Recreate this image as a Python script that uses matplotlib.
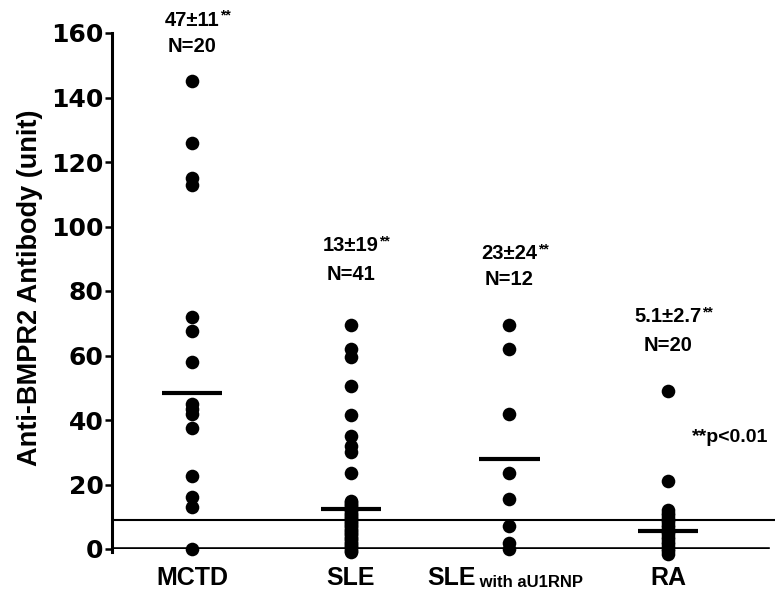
import matplotlib
matplotlib.use('Agg')
import matplotlib.pyplot as plt

# ---------------- data ----------------
categories = ['MCTD', 'SLE', 'SLE', 'RA']
category_suffix = ['', '', 'with aU1RNP', '']
mctd = [145, 126, 115, 113, 72, 67.5, 58, 45, 43.5, 42, 37.5, 22.5, 16, 13, 0]
sle = [69.5, 62, 59.5, 50.5, 41.5, 35, 32, 30, 23.5,
       15, 14.5, 14, 13.5, 13, 12.5, 12, 11.5, 11, 10.5, 10, 9.5, 9, 8.5,
       8, 7.5, 7, 6.5, 6, 5.5, 5, 4.5, 4, 3.5, 3, 2.5, 2, 1.5, 1, 0.5, 0,
       -0.5, -1]
sle_u1 = [69.5, 62, 42, 23.5, 15.5, 7, 2, 0]
ra = [49, 21, 12, 11.25, 10.5, 9.75, 9, 8.25, 7.5, 6.75, 6, 5.25, 4.5,
      3.75, 3, 2.25, 1.5, 0.75, 0, -0.75, -1.5]
groups = [mctd, sle, sle_u1, ra]
mean_lines = [48.5, 12.5, 28, 5.5]
mean_labels = ['47±11', '13±19', '23±24', '5.1±2.7']
n_labels = ['N=20', 'N=41', 'N=12', 'N=20']
cutoff = 9
yticks = [0, 20, 40, 60, 80, 100, 120, 140, 160]
ylabel = 'Anti-BMPR2 Antibody (unit)'
pnote = '**p<0.01'

# ---------------- figure ----------------
W, H = 775, 596
fig = plt.figure(figsize=(W / 100, H / 100), dpi=100)
ax_left, ax_right = 112, 775
ax_top, ax_bot = 33, 549
ax = fig.add_axes([ax_left / W, 1 - ax_bot / H,
                   (ax_right - ax_left) / W, (ax_bot - ax_top) / H])
ax.set_ylim(0, 160)
ax.set_xlim(-0.504, 3.674)

for s in ['top', 'right', 'bottom']:
    ax.spines[s].set_visible(False)
ax.spines['left'].set_linewidth(2.2)
ax.spines['left'].set_bounds(-0.8, 160)

ax.set_xticks([])
ax.set_yticks(yticks)
ax.set_yticklabels([str(v) for v in yticks], fontfamily='DejaVu Sans',
                   fontweight='bold', fontsize=18)
ax.tick_params(axis='y', length=5, width=1.8, pad=1, direction='out')

# baseline and cutoff lines
ax.axhline(0, xmin=0, xmax=0.99, color='black', lw=2.6, zorder=2)
ax.axhline(cutoff, color='black', lw=1.5, zorder=2)

# points
for i, vals in enumerate(groups):
    ax.plot([i] * len(vals), vals, 'o', color='black', markersize=9.8,
            markeredgewidth=0, clip_on=False, zorder=3)
    ax.plot([i - 0.19, i + 0.19], [mean_lines[i]] * 2, color='black',
            lw=3, solid_capstyle='butt', zorder=3)

# category labels
xt = ax.get_xaxis_transform()
fam = 'Liberation Sans'
for i, (c, suf) in enumerate(zip(categories, category_suffix)):
    if suf:
        t = ax.text(i - 0.52, -0.056, c, transform=xt, ha='left', va='center',
                    fontfamily=fam, fontweight='bold', fontsize=18)
        ax.annotate(' ' + suf, xy=(1, 0), xycoords=t, ha='left',
                    va='bottom', fontfamily=fam, fontweight='bold',
                    fontsize=12)
    else:
        ax.text(i, -0.056, c, transform=xt, ha='center', va='center',
                fontfamily=fam, fontweight='bold', fontsize=18)

# annotations above groups
ann_y = [(164, 155.7), (94, 85), (91.5, 83.7), (72, 63)]
for i in range(4):
    y1, y2 = ann_y[i]
    t = ax.text(i, y1, mean_labels[i], ha='center', va='center',
                fontfamily=fam, fontweight='bold', fontsize=14.5,
                clip_on=False)
    ax.annotate('**', xy=(1, 1), xycoords=t, ha='left', va='top',
                fontfamily=fam, fontweight='bold', fontsize=10,
                xytext=(0.5, 1.5), textcoords='offset points')
    ax.text(i, y2, n_labels[i], ha='center', va='center',
            fontfamily=fam, fontweight='bold', fontsize=14.5,
            clip_on=False)

ax.text(3.15, 34.7, pnote, ha='left', va='center',
        fontfamily=fam, fontweight='bold', fontsize=14,
        clip_on=False)

fig.text(30 / W, 1 - 288 / H, ylabel, rotation=90, ha='center', va='center',
         fontfamily=fam, fontweight='bold', fontsize=19.5)

fig.savefig('out.png', dpi=100)
